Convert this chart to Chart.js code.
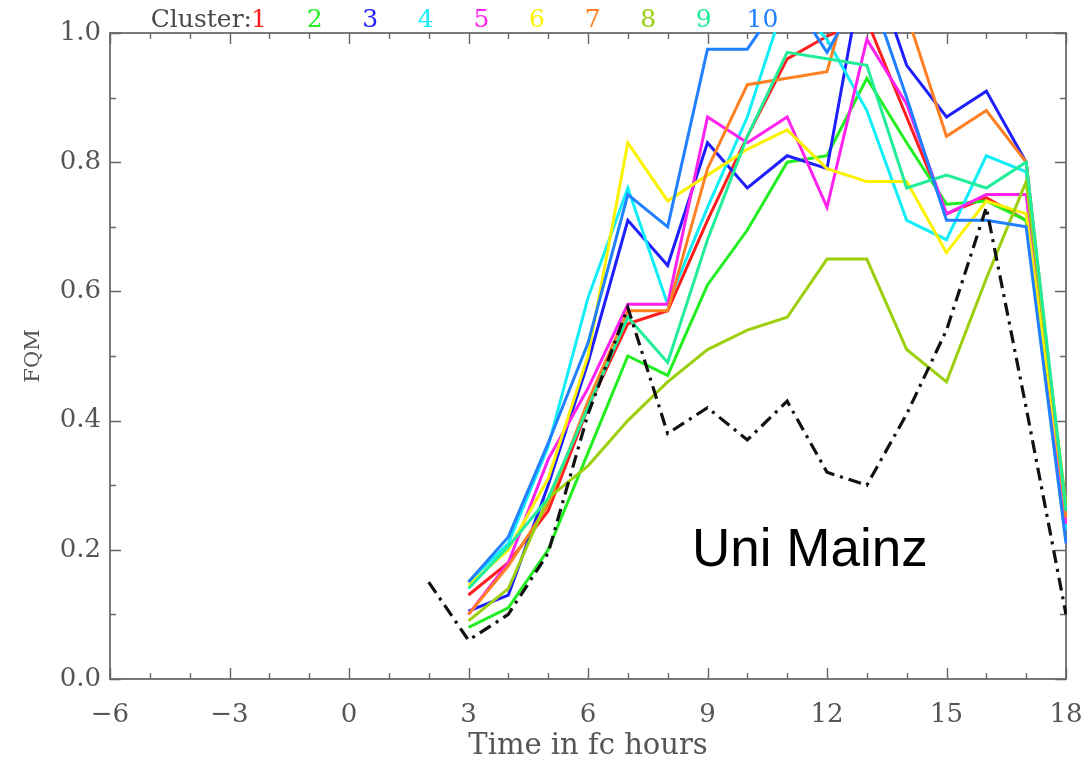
<!DOCTYPE html>
<html>
<head>
<meta charset="utf-8">
<script src="https://cdn.jsdelivr.net/npm/chart.js@4/dist/chart.umd.min.js"></script>
<style>
html,body{margin:0;padding:0;background:#ffffff;}
canvas{display:block;}
</style>
</head>
<body>
<canvas id="c" width="1089" height="758"></canvas>
<script>
// ---- data ----
const hours = [3,4,5,6,7,8,9,10,11,12,13,14,15,16,17,18];
const blackHours = [2,3,4,5,6,7,8,9,10,11,12,13,14,15,16,17,18];

const cluster1  = [0.13,0.18,0.26,0.42,0.55,0.57,0.71,0.84,0.96,0.995,1.02,0.87,0.72,0.745,0.71,0.24];
const cluster2  = [0.08,0.11,0.20,0.35,0.50,0.47,0.61,0.695,0.80,0.81,0.93,0.83,0.735,0.74,0.71,0.27];
const cluster3  = [0.105,0.13,0.30,0.49,0.71,0.64,0.83,0.76,0.81,0.79,1.13,0.95,0.87,0.91,0.80,0.23];
const cluster4  = [0.15,0.21,0.36,0.59,0.76,0.58,0.73,0.87,1.06,0.99,0.88,0.71,0.68,0.81,0.785,0.23];
const cluster5  = [0.10,0.18,0.34,0.45,0.58,0.58,0.87,0.83,0.87,0.73,0.99,0.89,0.72,0.75,0.75,0.24];
const cluster6  = [0.145,0.20,0.31,0.50,0.83,0.74,0.78,0.82,0.85,0.79,0.77,0.77,0.66,0.74,0.72,0.26];
const cluster7  = [0.10,0.175,0.27,0.43,0.57,0.57,0.79,0.92,0.93,0.94,1.16,1.03,0.84,0.88,0.80,0.25];
const cluster8  = [0.09,0.14,0.28,0.33,0.40,0.46,0.51,0.54,0.56,0.65,0.65,0.51,0.46,0.62,0.77,0.27];
const cluster9  = [0.14,0.205,0.28,0.42,0.56,0.49,0.68,0.84,0.97,0.96,0.95,0.76,0.78,0.76,0.80,0.26];
const cluster10 = [0.15,0.22,0.365,0.52,0.75,0.70,0.975,0.975,1.065,0.97,1.08,0.90,0.71,0.71,0.70,0.21];
const reference = [0.15,0.06,0.10,0.195,0.41,0.575,0.38,0.42,0.37,0.43,0.32,0.30,0.41,0.54,0.73,0.42,0.10];

const clusterLabels = ['1','2','3','4','5','6','7','8','9','10'];
const clusterColors = ['#ff1e1e','#22ee22','#1e1eff','#12eef8','#ff22ee','#fcf200','#ff8022','#9ccf0e','#22ee9a','#2080ff'];
const clusterSeries = [cluster1,cluster2,cluster3,cluster4,cluster5,cluster6,cluster7,cluster8,cluster9,cluster10];

const xTicks = [-6,-3,0,3,6,9,12,15,18];
const yTicks = [0,0.2,0.4,0.6,0.8,1.0];
const xTitle = 'Time in fc hours';
const yTitle = 'FQM';
const legendTitle = 'Cluster:';
const annotationText = 'Uni Mainz';

// ---- build datasets ----
const datasets = clusterSeries.map((vals, i) => ({
  label: clusterLabels[i],
  data: hours.map((h, k) => ({x: h, y: vals[k]})),
  borderColor: clusterColors[i],
  backgroundColor: clusterColors[i],
  borderWidth: 3,
  pointRadius: 0,
  fill: false,
  tension: 0,
  clip: 1,
  order: 10 - i
}));
datasets.push({
  label: 'reference',
  data: blackHours.map((h, k) => ({x: h, y: reference[k]})),
  borderColor: '#111111',
  borderWidth: 3.2,
  borderDash: [13, 6, 3, 6],
  pointRadius: 0,
  fill: false,
  tension: 0,
  clip: 1,
  order: 0
});

const TICK_FONT = 'DejaVu Serif';
const GREY = '#555555';

const decoPlugin = {
  id: 'deco',
  beforeDatasetsDraw(chart) {
    const {ctx, chartArea: a, scales: {x, y}} = chart;
    ctx.save();
    ctx.strokeStyle = '#7a7a7a';
    ctx.lineWidth = 2;
    ctx.strokeRect(a.left, a.top, a.right - a.left, a.bottom - a.top);
    ctx.lineWidth = 1.4;
    ctx.strokeStyle = '#666666';
    ctx.beginPath();
    for (let v = x.min; v <= x.max; v += 1) {
      const px = Math.round(x.getPixelForValue(v)) + 0.5;
      const len = (v % 3 === 0) ? 11 : 6;
      ctx.moveTo(px, a.bottom); ctx.lineTo(px, a.bottom - len);
      ctx.moveTo(px, a.top); ctx.lineTo(px, a.top + len);
    }
    for (let i = 0; i <= 10; i++) {
      const py = Math.round(y.getPixelForValue(i / 10)) + 0.5;
      const len = (i % 2 === 0) ? 11 : 6;
      ctx.moveTo(a.left, py); ctx.lineTo(a.left + len, py);
      ctx.moveTo(a.right, py); ctx.lineTo(a.right - len, py);
    }
    ctx.stroke();
    ctx.restore();
  },
  afterDraw(chart) {
    const {ctx} = chart;
    ctx.save();
    // legend
    ctx.font = '25px "' + TICK_FONT + '"';
    ctx.textBaseline = 'alphabetic';
    ctx.textAlign = 'right';
    ctx.fillStyle = '#4a4a4a';
    ctx.fillText(legendTitle, 252, 27);
    ctx.textAlign = 'center';
    clusterLabels.forEach((lab, i) => {
      ctx.fillStyle = clusterColors[i];
      const cx = 259 + i * 55.6 + (lab.length > 1 ? 3 : 0);
      ctx.fillText(lab, cx, 27);
    });
    // annotation
    ctx.font = '53px "Liberation Sans"';
    ctx.fillStyle = '#000000';
    ctx.textAlign = 'left';
    ctx.fillText(annotationText, 692, 566);
    ctx.restore();
  }
};

new Chart(document.getElementById('c'), {
  type: 'line',
  data: {datasets},
  plugins: [decoPlugin],
  options: {
    responsive: false,
    animation: false,
    devicePixelRatio: 1,
    layout: {padding: {left: 0, right: 23, top: 33, bottom: 0}},
    plugins: {legend: {display: false}, tooltip: {enabled: false}},
    scales: {
      x: {
        type: 'linear',
        min: -6, max: 18,
        afterFit(s) { s.height = 79; s.paddingRight = 0; s.paddingLeft = 0; },
        afterBuildTicks(s) { s.ticks = xTicks.map(v => ({value: v})); },
        grid: {display: false, drawTicks: false},
        border: {display: false},
        ticks: {
          padding: 21, autoSkip: false, maxRotation: 0,
          color: GREY, font: {family: TICK_FONT, size: 26},
          callback: v => (v < 0 ? '\u2212' + Math.abs(v) : String(v))
        },
        title: {display: true, text: xTitle, color: GREY,
                font: {family: TICK_FONT, size: 29, lineHeight: 0.8}, padding: {top: 0, bottom: 0}}
      },
      y: {
        type: 'linear',
        min: 0, max: 1,
        afterFit(s) { s.width = 110; s.paddingTop = 0; s.paddingBottom = 0; },
        afterBuildTicks(s) { s.ticks = yTicks.map(v => ({value: v})); },
        grid: {display: false, drawTicks: false},
        border: {display: false},
        ticks: {
          padding: 9, color: GREY, font: {family: TICK_FONT, size: 26},
          callback: v => Number(v).toFixed(1)
        },
        title: {display: true, text: yTitle, color: GREY,
                font: {family: TICK_FONT, size: 21}, padding: {top: 21, bottom: 0}}
      }
    }
  }
});
</script>
</body>
</html>
